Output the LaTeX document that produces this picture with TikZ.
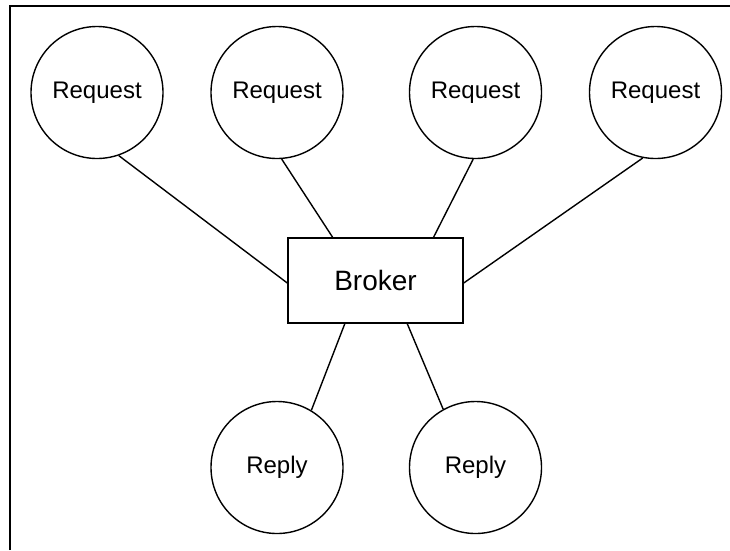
\documentclass[tikz,border=0pt]{standalone}
\usepackage{fontspec}
\setmainfont{Liberation Sans}
\usetikzlibrary{calc}
\begin{document}
\begin{tikzpicture}[x=1pt,y=-1pt,
  circ/.style={draw,circle,line width=1.4pt,minimum size=132pt,inner sep=0pt,font=\fontsize{24}{26}\selectfont},
  boxnode/.style={draw,rectangle,line width=1.4pt,minimum width=175pt,minimum height=85pt,inner sep=0pt,font=\fontsize{28}{30}\selectfont},
  link/.style={line width=1.4pt},
  frame/.style={line width=2pt}]
\useasboundingbox (0,0) rectangle (730,550);
\draw[frame] (10,550) -- (10,6) -- (730,6);
\node[circ] (q1) at (97,92.5) {Request};
\node[circ] (q2) at (277,92.5) {Request};
\node[circ] (q3) at (475.5,92.5) {Request};
\node[circ] (q4) at (655.5,92.5) {Request};
\node[boxnode] (b) at (375.5,280.5) {Broker};
\node[circ] (p1) at (277,467.5) {Reply};
\node[circ] (p2) at (475.5,467.5) {Reply};
\draw[link] (q1.-71) -- ([yshift=-2.5pt]b.west);
\draw[link] (q2.-86) -- ($(b.north west)!0.257!(b.north east)$);
\draw[link] (q3.-92) -- ($(b.north west)!0.829!(b.north east)$);
\draw[link] (q4.-101) -- ([yshift=-2.5pt]b.east);
\draw[link] (p1.59) -- ($(b.south west)!0.326!(b.south east)$);
\draw[link] (p2.119.5) -- ($(b.south west)!0.68!(b.south east)$);
\end{tikzpicture}
\end{document}
